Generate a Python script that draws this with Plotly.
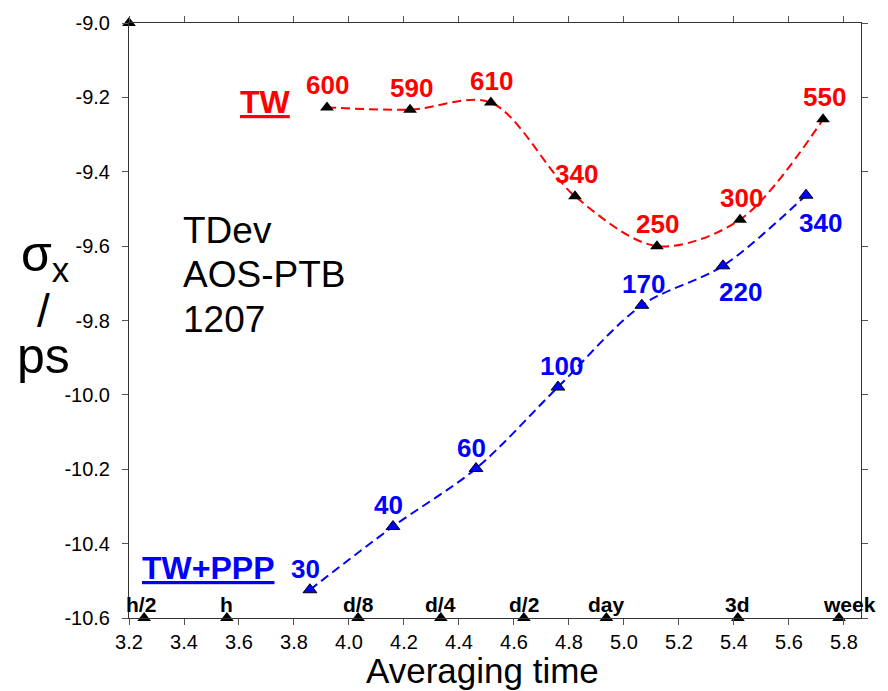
import plotly.graph_objects as go

# ---- data ----
tw_x = [3.92, 4.222, 4.516, 4.822, 5.12, 5.422, 5.724]
tw_y = [-9.227, -9.233, -9.214, -9.466, -9.600, -9.529, -9.259]
tw_labels = ["600", "590", "610", "340", "250", "300", "550"]

ppp_x = [3.858, 4.16, 4.462, 4.76, 5.065, 5.36, 5.662]
ppp_y = [-10.524, -10.354, -10.198, -9.979, -9.759, -9.653, -9.463]
ppp_labels = ["30", "40", "60", "100", "170", "220", "340"]

time_names = ["h/2", "h", "d/8", "d/4", "d/2", "day", "3d", "week"]
time_x = [3.255, 3.556, 4.033, 4.334, 4.636, 4.936, 5.414, 5.782]
time_y = [-10.6] * len(time_x)

corner_x = [3.2]
corner_y = [-9.0]

x_ticks = [3.2, 3.4, 3.6, 3.8, 4.0, 4.2, 4.4, 4.6, 4.8, 5.0, 5.2, 5.4, 5.6, 5.8]
y_ticks = [-10.6, -10.4, -10.2, -10.0, -9.8, -9.6, -9.4, -9.2, -9.0]

FONT = "Arial, Liberation Sans, sans-serif"
RED = "#ff0000"
BLUE = "#0000ff"

fig = go.Figure()

fig.add_trace(go.Scatter(
    x=tw_x, y=tw_y, mode="lines+markers",
    line=dict(color=RED, width=2, dash="9px,5px", shape="spline", smoothing=0.9),
    marker=dict(symbol="triangle-up", size=12, color="black"),
    cliponaxis=False, showlegend=False, hoverinfo="skip"))

fig.add_trace(go.Scatter(
    x=ppp_x, y=ppp_y, mode="lines+markers",
    line=dict(color=BLUE, width=2, dash="9px,5px", shape="spline", smoothing=0.9),
    marker=dict(symbol="triangle-up", size=12, color=BLUE,
                line=dict(color="black", width=1)),
    cliponaxis=False, showlegend=False, hoverinfo="skip"))

fig.add_trace(go.Scatter(
    x=time_x, y=time_y, mode="markers",
    marker=dict(symbol="triangle-up", size=12, color="black"),
    cliponaxis=False, showlegend=False, hoverinfo="skip"))

fig.add_trace(go.Scatter(
    x=corner_x, y=corner_y, mode="markers",
    marker=dict(symbol="triangle-up", size=12, color="black"),
    cliponaxis=False, showlegend=False, hoverinfo="skip"))

ann = []
for x, y, t in zip(tw_x, tw_y, tw_labels):
    ann.append(dict(x=x, y=y, text=t, showarrow=False, xshift=1, yshift=22,
                    font=dict(family=FONT, size=26, color=RED, weight="bold")))

ppp_shift = [(-4, 21), (-4, 22), (-5, 21), (4, 21), (2, 21), (18, -26), (14, -28)]
for (x, y, t), (dx, dy) in zip(zip(ppp_x, ppp_y, ppp_labels), ppp_shift):
    ann.append(dict(x=x, y=y, text=t, showarrow=False, xshift=dx, yshift=dy,
                    font=dict(family=FONT, size=26, color=BLUE, weight="bold")))

for x, y, t in zip(time_x, time_y, time_names):
    dx = 10 if t == "week" else (-3 if t == "h/2" else 0)
    ann.append(dict(x=x, y=y, text=t, showarrow=False, xshift=dx, yshift=14,
                    font=dict(family=FONT, size=21, color="black", weight="bold")))

def px2paper(px, py):
    return (px - 129) / 732.0, (618 - py) / 605.0

def add_text(px, py, text, size, color="black", bold=False, xanchor="center"):
    x, y = px2paper(px, py)
    f = dict(family=FONT, size=size, color=color)
    if bold:
        f["weight"] = "bold"
    ann.append(dict(x=x, y=y, xref="paper", yref="paper", text=text, showarrow=False,
                    xanchor=xanchor, yanchor="middle", font=f))

add_text(265, 93, "<u>TW</u>", 32, RED, True)
add_text(208, 567, "<u>TW+PPP</u>", 32, BLUE, True)
add_text(181, 224, "TDev", 37, xanchor="left")
add_text(181, 269, "AOS-PTB", 37, xanchor="left")
add_text(181, 314, "1207", 37, xanchor="left")
add_text(45, 251, "σ<sub>x</sub>", 50)
add_text(43, 306, "/", 46)
add_text(43, 352, "ps", 50)
add_text(482, 671, "Averaging time", 35)

axis_common = dict(showline=True, linecolor="#333333", linewidth=1, mirror="ticks",
                   ticks="outside", ticklen=6, tickcolor="#555555", showgrid=False,
                   zeroline=False, tickfont=dict(family=FONT, size=20, color="black"))

fig.update_layout(
    width=888, height=691,
    margin=dict(l=129, r=27, t=13, b=73),
    paper_bgcolor="white", plot_bgcolor="white",
    xaxis=dict(range=[3.2, 5.862], tickvals=x_ticks,
               ticktext=[f"{v:.1f}" for v in x_ticks], **axis_common),
    yaxis=dict(range=[-10.6, -9.0], tickvals=y_ticks,
               ticktext=[f"{v:.1f}" for v in y_ticks], ticklabelstandoff=8, **axis_common),
    annotations=ann,
)

fig.write_html("out.html")
